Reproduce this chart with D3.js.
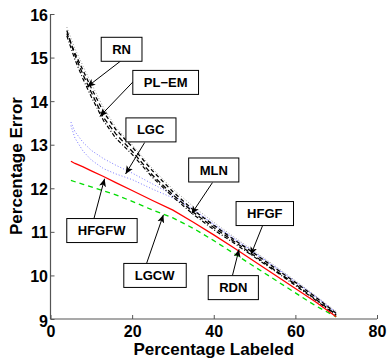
<!DOCTYPE html>
<html>
<head>
<script src="https://d3js.org/d3.v7.min.js" charset="utf-8"></script>
<style type="text/css">
body { margin: 0; background: #fff; font-family: "Liberation Sans", Arial, sans-serif; }
</style>
</head>
<body>
<script>
// x positions (percentage labeled)
var blackX = [4, 6, 8, 10, 13, 16, 20, 25, 30, 35, 40, 45, 50, 55, 60, 65, 70];
var colorX = [5, 6, 8, 10, 13, 16, 20, 25, 30, 35, 40, 45, 50, 55, 60, 65, 70];

var rnVals   = [15.62, 15.05, 14.6, 14.2, 13.62, 13.25, 12.85, 12.3, 11.85, 11.45, 11.1, 10.78, 10.45, 10.12, 9.8, 9.45, 9.1];
var plemVals = [15.55, 15.1, 14.7, 14.3, 13.75, 13.35, 12.95, 12.4, 11.92, 11.5, 11.15, 10.82, 10.5, 10.17, 9.84, 9.5, 9.13];
var mlnVals  = [15.5, 14.95, 14.5, 14.1, 13.55, 13.15, 12.78, 12.25, 11.8, 11.4, 11.05, 10.74, 10.42, 10.1, 9.77, 9.43, 9.08];
var rdnVals  = [15.7, 15.2, 14.8, 14.4, 13.85, 13.4, 13.0, 12.45, 11.98, 11.58, 11.22, 10.88, 10.55, 10.22, 9.88, 9.53, 9.17];
var lgcVals  = [13.52, 13.3, 13.05, 12.87, 12.68, 12.53, 12.35, 12.1, 11.85, 11.52, 11.18, 10.85, 10.53, 10.2, 9.86, 9.52, 9.15];
var hfgfVals = [13.44, 13.15, 12.85, 12.65, 12.45, 12.33, 12.2, 11.98, 11.78, 11.5, 11.16, 10.83, 10.5, 10.18, 9.84, 9.5, 9.14];
var hfgfwVals = [12.62, 12.57, 12.49, 12.4, 12.27, 12.13, 11.95, 11.72, 11.5, 11.22, 10.93, 10.63, 10.32, 10.01, 9.7, 9.39, 9.05];
var lgcwVals = [12.18, 12.15, 12.09, 12.03, 11.94, 11.85, 11.7, 11.5, 11.32, 11.08, 10.8, 10.5, 10.2, 9.9, 9.6, 9.3, 9.05];

var xTicks = [0, 20, 40, 60, 80];
var yTicks = [9, 10, 11, 12, 13, 14, 15, 16];

var series = [
  {name: "RDN",   xs: blackX, vals: rdnVals,   color: "#999999", dash: "1,2", width: 1},
  {name: "LGC",   xs: colorX, vals: lgcVals,   color: "#7a7aff", dash: "1,2", width: 1},
  {name: "HFGF",  xs: colorX, vals: hfgfVals,  color: "#7a7aff", dash: "1,2", width: 1},
  {name: "MLN",   xs: blackX, vals: mlnVals,   color: "#000000", dash: "4,2,1,2", width: 1.2},
  {name: "PL-EM", xs: blackX, vals: plemVals,  color: "#000000", dash: "4,3", width: 1.3},
  {name: "RN",    xs: blackX, vals: rnVals,    color: "#000000", dash: "5,3", width: 1.3},
  {name: "LGCW",  xs: colorX, vals: lgcwVals,  color: "#00dd00", dash: "5,4", width: 1.3},
  {name: "HFGFW", xs: colorX, vals: hfgfwVals, color: "#ff0000", dash: null,  width: 1.3}
];

// annotation boxes: centre, arrow start and arrow tip in data units
var annotations = [
  {text: "RN",    box: [17.42, 15.19], from: [17.18, 14.92], to: [9.0, 14.33]},
  {text: "PL\u2212EM", box: [28.22, 14.43], from: [20.6, 14.48], to: [12.1, 13.65]},
  {text: "LGC",   box: [24.54, 13.34], from: [23.07, 13.05], to: [18.4, 12.33]},
  {text: "MLN",   box: [40.0, 12.42],  from: [39.68, 12.13], to: [34.53, 11.41]},
  {text: "HFGF",  box: [52.5, 11.42],  from: [51.95, 11.14], to: [49.08, 10.47]},
  {text: "RDN",   box: [44.79, 9.72],  from: [44.59, 10.0],  to: [46.2, 10.6]},
  {text: "HFGFW", box: [12.52, 11.03], from: [10.63, 11.3],  to: [13.25, 12.22]},
  {text: "LGCW",  box: [25.52, 10.0],  from: [23.56, 10.28], to: [27.66, 11.39]}
];

var w = 388, h = 360;
var mLeft = 50.5, mRight = 377, mTop = 14, mBottom = 319;

var svg = d3.select("body").append("svg")
  .attr("width", w)
  .attr("height", h);

var x = d3.scaleLinear().domain([0, 80]).range([mLeft, mRight]);
var y = d3.scaleLinear().domain([9, 16]).range([mBottom, mTop]);

svg.append("defs").append("marker")
  .attr("id", "head")
  .attr("viewBox", "0 -4 8 8")
  .attr("refX", 8).attr("refY", 0)
  .attr("markerWidth", 8).attr("markerHeight", 8)
  .attr("markerUnits", "userSpaceOnUse")
  .attr("orient", "auto")
  .append("path")
  .attr("d", "M0,-3.5L8,0L0,3.5L2,0Z")
  .attr("fill", "#000");

// axes
var xAxis = d3.axisBottom(x).tickValues(xTicks).tickFormat(d3.format("d")).tickSize(-4).tickPadding(7);
var yAxis = d3.axisLeft(y).tickValues(yTicks).tickFormat(d3.format("d")).tickSize(-4).tickPadding(2.5);

var gx = svg.append("g").attr("transform", "translate(0," + mBottom + ")").call(xAxis);
var gy = svg.append("g").attr("transform", "translate(" + mLeft + ",0)").call(yAxis);

[gx, gy].forEach(function(g) {
  g.select(".domain").attr("stroke", "#555").attr("stroke-width", 1.2);
  g.selectAll(".tick line").attr("stroke", "#555");
  g.selectAll(".tick text")
    .attr("font-family", "'Liberation Sans', Arial, sans-serif")
    .attr("font-size", 16)
    .attr("font-weight", "bold")
    .attr("fill", "#000");
});
gx.select(".domain").attr("d", "M" + mLeft + ",0H" + mRight);
gy.select(".domain").attr("d", "M0," + mBottom + "V" + mTop);
gy.selectAll(".tick text").attr("dy", function(d) { return d === 9 ? "0.45em" : "0.38em"; });

// lines
var line = d3.line()
  .x(function(d) { return x(d[0]); })
  .y(function(d) { return y(d[1]); });

series.forEach(function(s) {
  svg.append("path")
    .datum(s.xs.map(function(v, i) { return [v, s.vals[i]]; }))
    .attr("d", line)
    .attr("fill", "none")
    .attr("stroke", s.color)
    .attr("stroke-width", s.width)
    .attr("stroke-dasharray", s.dash);
});

// annotations
annotations.forEach(function(a) {
  svg.append("line")
    .attr("x1", x(a.from[0])).attr("y1", y(a.from[1]))
    .attr("x2", x(a.to[0])).attr("y2", y(a.to[1]))
    .attr("stroke", "#000")
    .attr("stroke-width", 1)
    .attr("marker-end", "url(#head)");

  var g = svg.append("g");
  var t = g.append("text")
    .attr("x", x(a.box[0]))
    .attr("y", y(a.box[1]))
    .attr("dy", "0.35em")
    .attr("text-anchor", "middle")
    .attr("font-size", 13)
    .attr("font-weight", "bold")
    .text(a.text);
  var bb = t.node().getBBox();
  g.insert("rect", "text")
    .attr("x", bb.x - 11).attr("y", y(a.box[1]) - 12)
    .attr("width", bb.width + 22).attr("height", 24)
    .attr("fill", "#fff")
    .attr("stroke", "#000")
    .attr("stroke-width", 1);
});

// axis titles
svg.append("text")
  .attr("x", (mLeft + mRight) / 2)
  .attr("y", 355)
  .attr("text-anchor", "middle")
  .attr("font-size", 17)
  .attr("font-weight", "bold")
  .text("Percentage Labeled");

svg.append("text")
  .attr("transform", "translate(22,166) rotate(-90)")
  .attr("text-anchor", "middle")
  .attr("font-size", 17)
  .attr("font-weight", "bold")
  .text("Percentage Error");
</script>
</body>
</html>
